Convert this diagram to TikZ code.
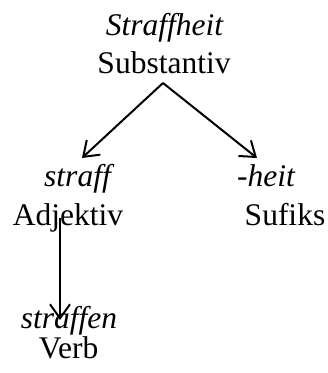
\documentclass[tikz,border=0pt]{standalone}
\usepackage{fontspec}
\setmainfont{Liberation Serif}
\usetikzlibrary{arrows.meta}

\begin{document}
\begin{tikzpicture}[x=1pt, y=-1pt,
	word/.style={anchor=base, inner sep=0pt, font=\fontsize{31.5}{37}\selectfont},
	lemma/.style={word, font=\fontsize{31.5}{37}\selectfont\itshape},
	arr/.style={line width=2pt, -{Straight Barb[length=14pt, width=20pt, line width=2pt]}}]
	\useasboundingbox (0, 0) rectangle (328, 373);

	% root
	\node [lemma] (straffheit) at (164.5, 35) {Straffheit};
	\node [word] (substantiv) at (164, 73) {Substantiv};

	% left and right parts
	\node [lemma] (straff) at (77.5, 186) {straff};
	\node [word] (adjektiv) at (68, 225) {Adjektiv};
	\node [lemma] (heit) at (266, 186) {-heit};
	\node [word] (sufiks) at (285, 225) {Sufiks};

	% verb
	\node [lemma] (straffen) at (69, 328) {straffen};
	\node [word] (verb) at (68.5, 358) {Verb};

	\coordinate (top) at (163, 83);
	\coordinate (leftend) at (82, 158);
	\coordinate (rightend) at (257, 158);
	\coordinate (vstart) at (60, 218);
	\coordinate (vend) at (60, 320);

	\draw [arr] (top) -- (leftend);
	\draw [arr] (top) -- (rightend);
	\draw [arr] (vstart) -- (vend);
\end{tikzpicture}
\end{document}
